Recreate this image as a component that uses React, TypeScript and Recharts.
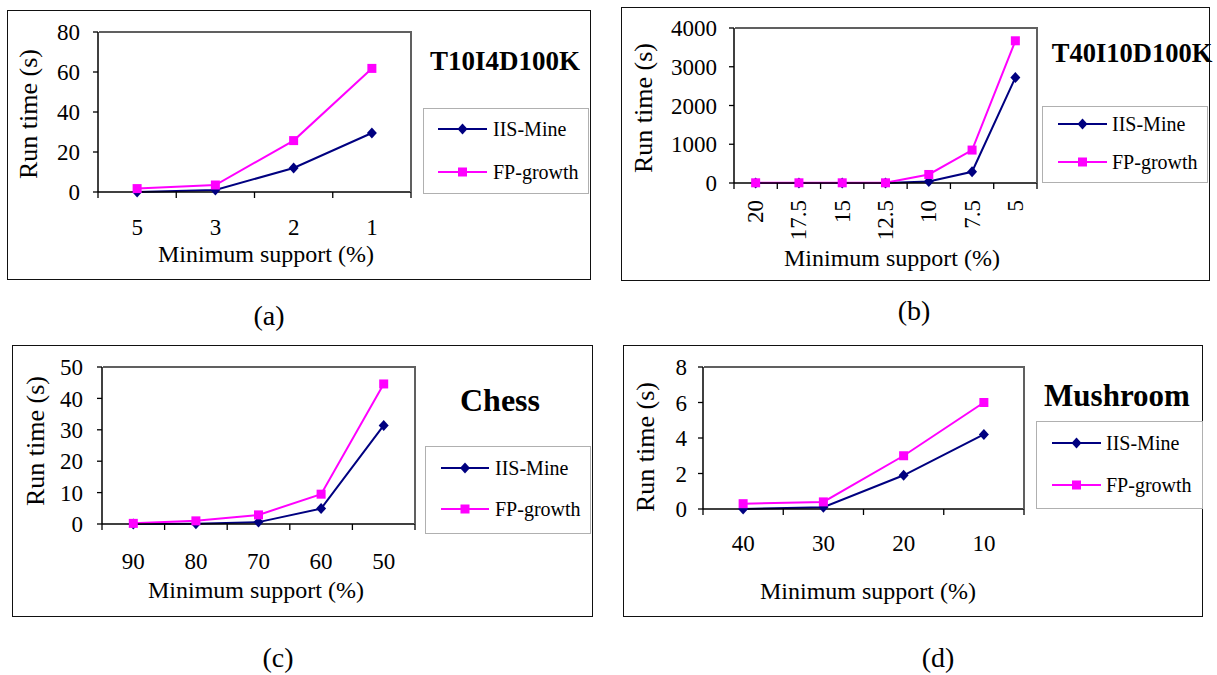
import React from 'react';
import { LineChart, Line, XAxis, YAxis, Legend } from 'recharts';

const FONT = '"Liberation Serif", "Times New Roman", serif';
const NAVY = '#000080';
const PINK = '#ff00ff';
const FRAME = '#606060';

// (a) T10I4D100K
const supportA = ['5', '3', '2', '1'];
const iisA = [0, 1, 12, 29.5];
const fpA = [1.7, 3.5, 25.7, 61.8];
const ticksA = [0, 20, 40, 60, 80];

// (b) T40I10D100K
const supportB = ['20', '17.5', '15', '12.5', '10', '7.5', '5'];
const iisB = [0, 0, 0, 0, 40, 290, 2720];
const fpB = [5, 5, 5, 5, 220, 850, 3670];
const ticksB = [0, 1000, 2000, 3000, 4000];

// (c) Chess
const supportC = ['90', '80', '70', '60', '50'];
const iisC = [0, 0.1, 0.6, 4.9, 31.4];
const fpC = [0.2, 1.0, 2.9, 9.5, 44.6];
const ticksC = [0, 10, 20, 30, 40, 50];

// (d) Mushroom
const supportD = ['40', '30', '20', '10'];
const iisD = [0, 0.1, 1.9, 4.2];
const fpD = [0.3, 0.4, 3.0, 6.0];
const ticksD = [0, 2, 4, 6, 8];

const seriesNames = ['IIS-Mine', 'FP-growth'];

const buildRows = (labels: string[], iis: number[], fp: number[]) =>
  labels.map((label, i) => ({ pos: i + 0.5, label, iis: iis[i], fp: fp[i] }));

// boundaries (tick marks) and centres (labels), like the Excel category axis
const halfTicks = (n: number) => Array.from({ length: 2 * n + 1 }, (_, i) => i / 2);

const panels = [
  {
    id: 'a', title: 'T10I4D100K', titleX: 505, titleY: 61, titleSize: 27, caption: '(a)', capX: 269, capY: 315,
    labels: supportA, iis: iisA, fp: fpA, yTicks: ticksA,
    box: { x: 7, y: 10, w: 584, h: 270 }, plot: { l: 98, t: 32, r: 411, b: 192 },
    yGap: 13, xLabOff: 35, rotate: false,
    yTitle: { x: 21, y: 104 }, xTitle: { x: 259, y: 244 },
    legend: { x: 423, y: 108, w: 166, h: 86, rows: [21, 64], line: [15, 64], text: 70 },
  },
  {
    id: 'b', title: 'T40I10D100K', titleX: 1132, titleY: 53, titleSize: 26.5, caption: '(b)', capX: 914, capY: 310,
    labels: supportB, iis: iisB, fp: fpB, yTicks: ticksB,
    box: { x: 621, y: 7, w: 589, h: 274 }, plot: { l: 734, t: 28, r: 1037, b: 183 },
    yGap: 12, xLabOff: 17, rotate: true,
    yTitle: { x: 22, y: 101 }, xTitle: { x: 271, y: 251 },
    legend: { x: 1042, y: 106, w: 166, h: 77, rows: [18, 56], line: [16, 65], text: 70 },
  },
  {
    id: 'c', title: 'Chess', titleX: 500, titleY: 400, titleSize: 32, caption: '(c)', capX: 278, capY: 657,
    labels: supportC, iis: iisC, fp: fpC, yTicks: ticksC,
    box: { x: 12, y: 345, w: 581, h: 272 }, plot: { l: 102, t: 367, r: 415, b: 524 },
    yGap: 14, xLabOff: 37, rotate: false,
    yTitle: { x: 23, y: 96 }, xTitle: { x: 244, y: 245 },
    legend: { x: 425, y: 446, w: 166, h: 88, rows: [22, 63], line: [16, 64], text: 70 },
  },
  {
    id: 'd', title: 'Mushroom', titleX: 1117, titleY: 395, titleSize: 31, caption: '(d)', capX: 938, capY: 657,
    labels: supportD, iis: iisD, fp: fpD, yTicks: ticksD,
    box: { x: 623, y: 345, w: 580, h: 272 }, plot: { l: 703, t: 367, r: 1024, b: 509 },
    yGap: 11, xLabOff: 34, rotate: false,
    yTitle: { x: 22, y: 102 }, xTitle: { x: 245, y: 246 },
    legend: { x: 1036, y: 421, w: 167, h: 88, rows: [22, 64], line: [16, 65], text: 70 },
  },
];

const Diamond = ({ cx, cy, color = NAVY }: any) => (
  <path d={`M${cx},${cy - 5.5}L${cx + 5},${cy}L${cx},${cy + 5.5}L${cx - 5},${cy}Z`} fill={color} />
);
const Square = ({ cx, cy, color = PINK }: any) => (
  <rect x={cx - 4.5} y={cy - 4.5} width={9} height={9} fill={color} />
);

const XTick = ({ x, y, payload, labels, offset, rotate }: any) => {
  const v = payload.value;
  if (Number.isInteger(v)) {
    return <line x1={x} y1={y} x2={x} y2={y + 6} stroke="#000" strokeWidth={1.3} />;
  }
  const label = labels[Math.floor(v)];
  if (rotate) {
    const ty = y + offset;
    return (
      <text x={x} y={ty} transform={`rotate(-90, ${x}, ${ty})`} textAnchor="end" dominantBaseline="central"
        fontFamily={FONT} fontSize={23} fill="#000">{label}</text>
    );
  }
  return (
    <text x={x} y={y + offset} textAnchor="middle" dominantBaseline="central" fontFamily={FONT} fontSize={23} fill="#000">
      {label}
    </text>
  );
};

const Panel = ({ cfg }: any) => {
  const { box, plot, labels, yTicks, legend } = cfg;
  const rows = buildRows(labels, cfg.iis, cfg.fp);
  const n = labels.length;
  const yMax = yTicks[yTicks.length - 1];
  const margin = { top: plot.t - box.y, right: box.x + box.w - plot.r, left: 0, bottom: 0 };

  const legendContent = ({ payload }: any) => {
    const items = seriesNames.map((name) => (payload || []).find((p: any) => p.value === name)).filter(Boolean);
    return (
      <div style={{ width: legend.w, height: legend.h, border: '1.5px solid #b0b0b0', boxSizing: 'border-box', background: '#fff' }}>
        <svg width={legend.w} height={legend.h} style={{ position: 'absolute', left: 0, top: 0 }}>
          {items.map((p: any, i: number) => {
            const ry = legend.rows[i];
            const mid = (legend.line[0] + legend.line[1]) / 2;
            return (
              <g key={p.value}>
                <line x1={legend.line[0]} y1={ry} x2={legend.line[1]} y2={ry} stroke={p.color} strokeWidth={2} />
                {p.dataKey === 'iis' ? <Diamond cx={mid} cy={ry} /> : <Square cx={mid} cy={ry} />}
                <text x={legend.text} y={ry} dominantBaseline="central" fontFamily={FONT} fontSize={20} fill="#000">{p.value}</text>
              </g>
            );
          })}
        </svg>
      </div>
    );
  };

  return (
    <>
      <div style={{ position: 'absolute', left: box.x, top: box.y, width: box.w, height: box.h, border: '1.5px solid #111', boxSizing: 'border-box' }} />
      <div style={{ position: 'absolute', left: box.x, top: box.y }}>
        <LineChart width={box.w} height={box.h} data={rows} margin={margin}>
          <XAxis
            dataKey="pos" type="number" domain={[0, n]} ticks={halfTicks(n)} interval={0}
            height={box.y + box.h - plot.b} tickLine={false} tickSize={0} tickMargin={0}
            axisLine={{ stroke: '#000', strokeWidth: 1.5 }}
            tick={(p: any) => <XTick {...p} labels={labels} offset={cfg.xLabOff} rotate={cfg.rotate} />}
            label={() => (
              <text x={cfg.xTitle.x} y={cfg.xTitle.y} textAnchor="middle" dominantBaseline="central" fontFamily={FONT} fontSize={24} fill="#000">
                Minimum support (%)
              </text>
            )}
          />
          <YAxis
            type="number" domain={[0, yMax]} ticks={yTicks} interval={0} width={plot.l - box.x}
            tickSize={5} tickMargin={cfg.yGap} tickLine={{ stroke: '#000', strokeWidth: 1.3 }}
            axisLine={{ stroke: '#000', strokeWidth: 1.5 }}
            tick={{ fill: '#000', fontSize: 23, fontFamily: FONT }}
            label={() => (
              <text x={cfg.yTitle.x} y={cfg.yTitle.y} transform={`rotate(-90, ${cfg.yTitle.x}, ${cfg.yTitle.y})`}
                textAnchor="middle" dominantBaseline="central" fontFamily={FONT} fontSize={26} fill="#000">
                Run time (s)
              </text>
            )}
          />
          <Legend
            layout="vertical" align="center" verticalAlign="middle"
            wrapperStyle={{ left: legend.x - box.x, top: legend.y - box.y, width: legend.w, height: legend.h }}
            content={legendContent}
          />
          <Line dataKey="iis" name={seriesNames[0]} stroke={NAVY} strokeWidth={2} isAnimationActive={false}
            dot={(p: any) => <Diamond key={`d${p.index}`} cx={p.cx} cy={p.cy} />} activeDot={false} />
          <Line dataKey="fp" name={seriesNames[1]} stroke={PINK} strokeWidth={2} isAnimationActive={false}
            dot={(p: any) => <Square key={`s${p.index}`} cx={p.cx} cy={p.cy} />} activeDot={false} />
        </LineChart>
      </div>
      {/* grey plot-area frame on top and right, as in Excel; drawn above the chart */}
      <div style={{
        position: 'absolute', left: plot.l + 1, top: plot.t - 1, width: plot.r - plot.l, height: plot.b - plot.t + 1,
        borderTop: `2px solid ${FRAME}`, borderRight: `2px solid ${FRAME}`, boxSizing: 'border-box', pointerEvents: 'none', zIndex: 2,
      }} />
    </>
  );
};

export default function App() {
  return (
    <div style={{ position: 'absolute', left: 0, top: 0, width: 1217, height: 675, background: '#fff', fontFamily: FONT }}>
      {panels.map((cfg) => (
        <Panel key={cfg.id} cfg={cfg} />
      ))}
      <svg width={1217} height={675} style={{ position: 'absolute', left: 0, top: 0, pointerEvents: 'none', zIndex: 3 }}>
        {panels.map((cfg) => (
          <g key={cfg.id}>
            <text x={cfg.titleX} y={cfg.titleY} textAnchor="middle" dominantBaseline="central" fontFamily={FONT}
              fontWeight="bold" fontSize={cfg.titleSize} fill="#000">{cfg.title}</text>
            <text x={cfg.capX} y={cfg.capY} textAnchor="middle" dominantBaseline="central" fontFamily={FONT}
              fontSize={28} fill="#000">{cfg.caption}</text>
          </g>
        ))}
      </svg>
    </div>
  );
}
